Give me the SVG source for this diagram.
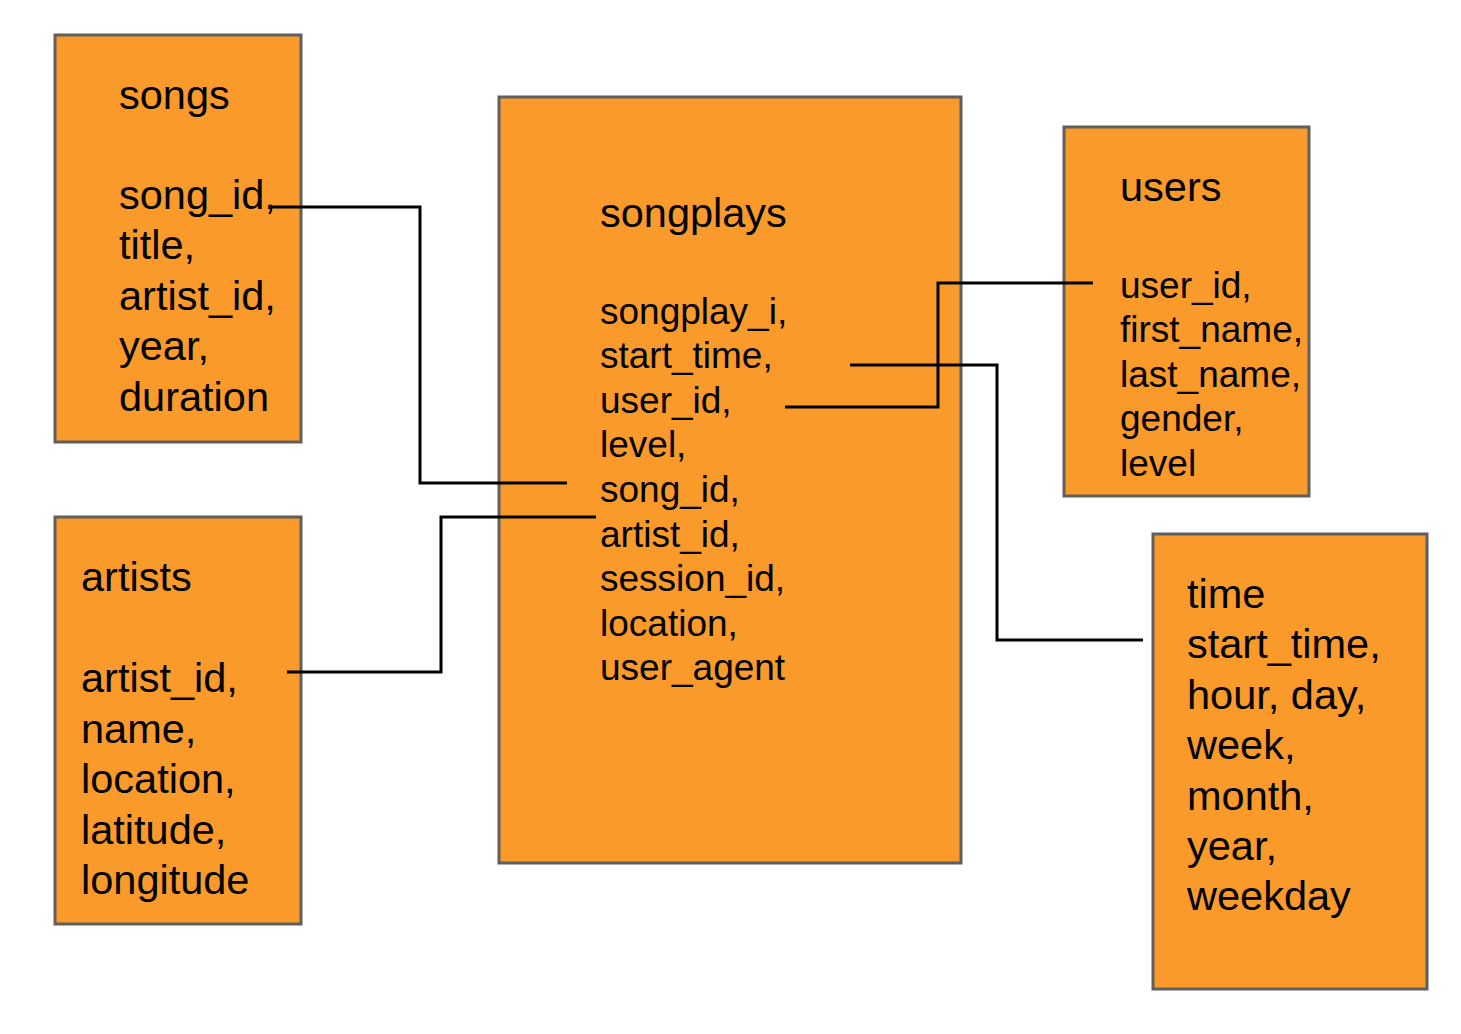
<svg xmlns="http://www.w3.org/2000/svg" width="1461" height="1034" viewBox="0 0 1461 1034">
<style>
.box{fill:#F99A2B;stroke:#5F5F5F;stroke-width:3}
.t{font-family:"Liberation Sans",Arial,sans-serif;fill:#000}
.big{font-size:41.5px}
.sm{font-size:37px}
.ttl{font-size:41.5px}
.c{fill:none;stroke:#000;stroke-width:3}
</style>
<rect width="1461" height="1034" fill="#fff"/>
<g id="songs">
<rect class="box" x="55" y="35" width="246" height="407"/>
<text class="t big">
<tspan x="119" y="109">songs</tspan>
<tspan x="119" y="209">song_id,</tspan>
<tspan x="119" y="259">title,</tspan>
<tspan x="119" y="310">artist_id,</tspan>
<tspan x="119" y="360">year,</tspan>
<tspan x="119" y="411">duration</tspan>
</text>
</g>
<g id="artists">
<rect class="box" x="55" y="517" width="246" height="407"/>
<text class="t big">
<tspan x="81" y="591">artists</tspan>
<tspan x="81" y="692">artist_id,</tspan>
<tspan x="81" y="743">name,</tspan>
<tspan x="81" y="793">location,</tspan>
<tspan x="81" y="844">latitude,</tspan>
<tspan x="81" y="894">longitude</tspan>
</text>
</g>
<g id="songplays">
<rect class="box" x="499" y="97" width="462" height="766"/>
<text class="t ttl" x="600" y="227">songplays</text>
<text class="t sm">
<tspan x="600" y="324">songplay_i,</tspan>
<tspan x="600" y="368">start_time,</tspan>
<tspan x="600" y="413">user_id,</tspan>
<tspan x="600" y="457">level,</tspan>
<tspan x="600" y="502">song_id,</tspan>
<tspan x="600" y="547">artist_id,</tspan>
<tspan x="600" y="591">session_id,</tspan>
<tspan x="600" y="636">location,</tspan>
<tspan x="600" y="680">user_agent</tspan>
</text>
</g>
<g id="users">
<rect class="box" x="1064" y="127" width="245" height="369"/>
<text class="t ttl" x="1120" y="201">users</text>
<text class="t sm">
<tspan x="1120" y="298">user_id,</tspan>
<tspan x="1120" y="342">first_name,</tspan>
<tspan x="1120" y="387">last_name,</tspan>
<tspan x="1120" y="431">gender,</tspan>
<tspan x="1120" y="476">level</tspan>
</text>
</g>
<g id="time">
<rect class="box" x="1153" y="534" width="274" height="455"/>
<text class="t big">
<tspan x="1187" y="608">time</tspan>
<tspan x="1187" y="658">start_time,</tspan>
<tspan x="1187" y="709">hour, day,</tspan>
<tspan x="1187" y="759">week,</tspan>
<tspan x="1187" y="810">month,</tspan>
<tspan x="1187" y="860">year,</tspan>
<tspan x="1187" y="910">weekday</tspan>
</text>
</g>
<g id="connectors">
<polyline class="c" points="272,207 420,207 420,483 567,483"/>
<polyline class="c" points="287,672 441,672 441,517 596,517"/>
<polyline class="c" points="785,407 938,407 938,283 1093,283"/>
<polyline class="c" points="850,365 997,365 997,640 1143,640"/>
</g>
</svg>
